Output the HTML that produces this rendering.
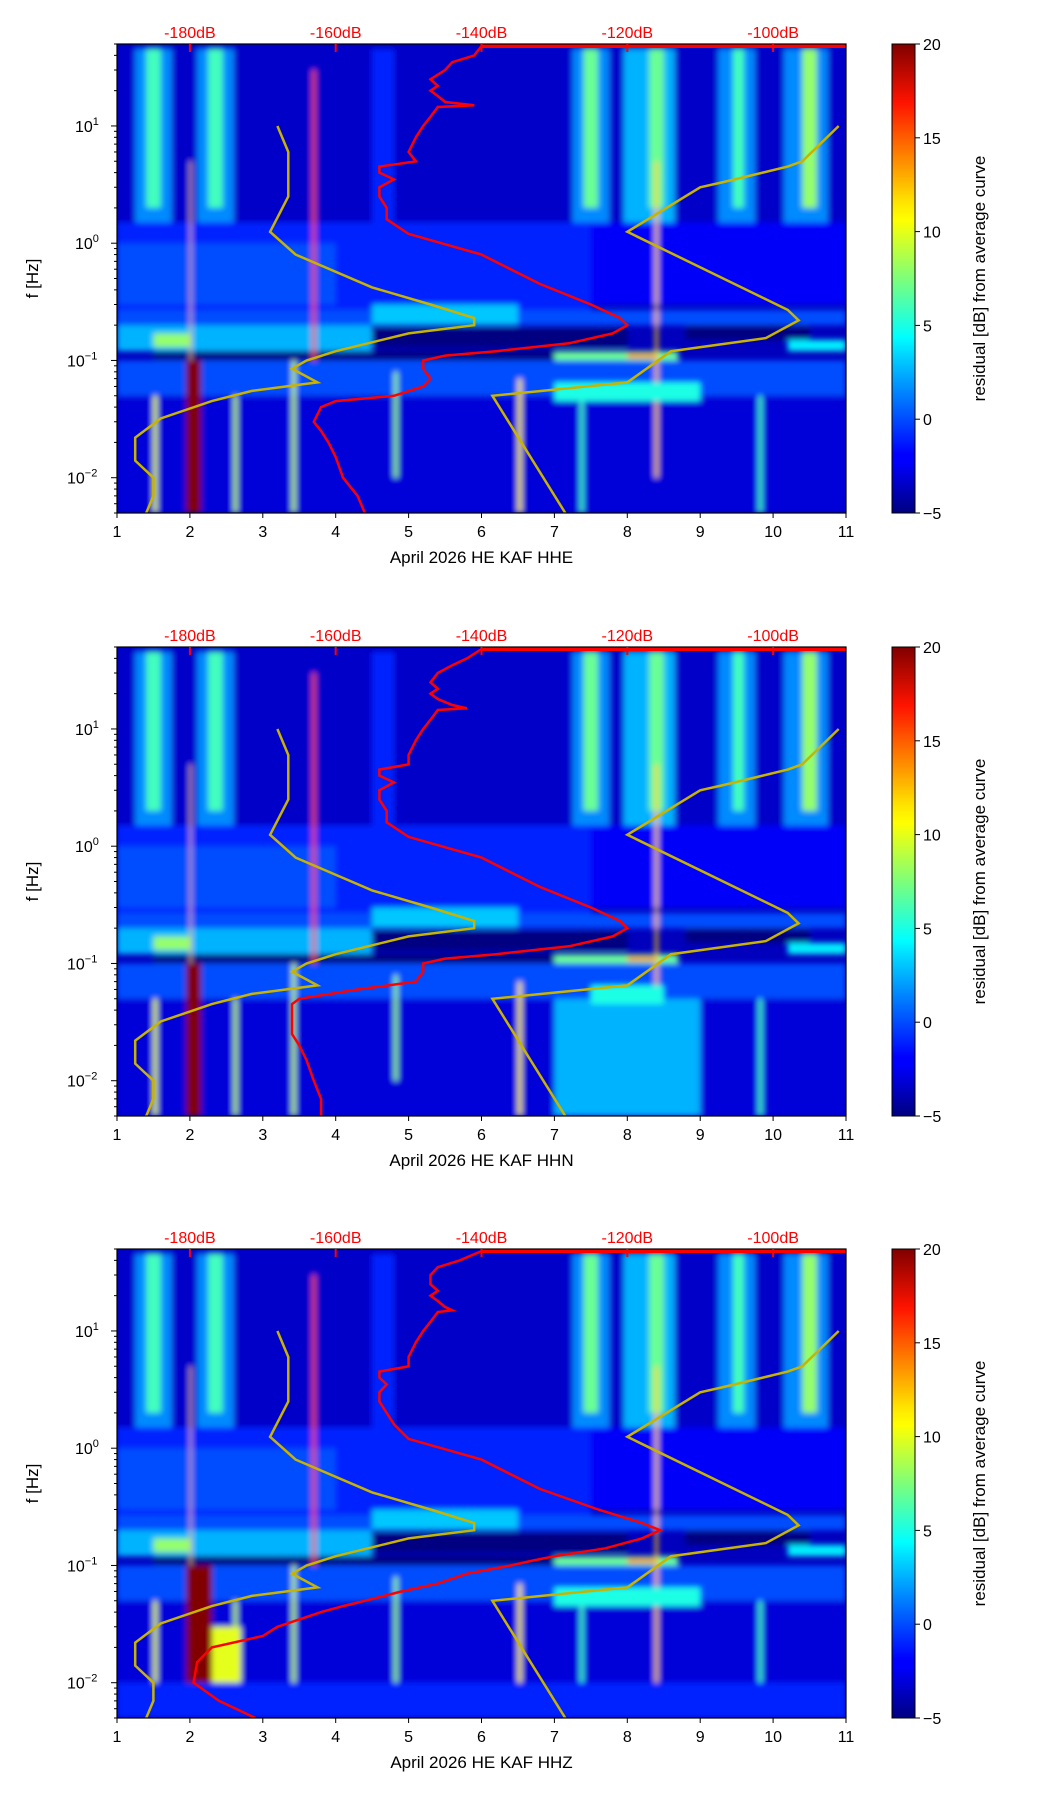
<!DOCTYPE html>
<html><head><meta charset="utf-8">
<style>
html,body{margin:0;padding:0;background:#fff;}
svg text{font-family:"Liberation Sans","DejaVu Sans",sans-serif;}
</style></head>
<body>
<svg id="fig" width="1052" height="1806" viewBox="0 0 1052 1806" xmlns="http://www.w3.org/2000/svg">
<defs>
<linearGradient id="jetgrad" x1="0" y1="1" x2="0" y2="0">
<stop offset="0" stop-color="#000080"/><stop offset="0.11" stop-color="#0000ff"/>
<stop offset="0.125" stop-color="#0000ff"/><stop offset="0.34" stop-color="#00d8ff"/>
<stop offset="0.375" stop-color="#00ffff"/><stop offset="0.5" stop-color="#7dff7a"/>
<stop offset="0.625" stop-color="#ffff00"/><stop offset="0.66" stop-color="#ffe600"/>
<stop offset="0.875" stop-color="#ff1300"/><stop offset="1" stop-color="#800000"/>
</linearGradient>
<filter id="blur" x="-5%" y="-5%" width="110%" height="110%"><feGaussianBlur stdDeviation="3"/></filter>
</defs>
</svg>
<script>
// ---- data ----
const panelNames = ["HHE","HHN","HHZ"];
const topTickDb = [-180,-160,-140,-120,-100];
const xTicks = [1,2,3,4,5,6,7,8,9,10,11];
const yDecades = [-2,-1,0,1];
const cbTicks = [-5,0,5,10,15,20];
// yellow reference curves (day index, Hz)
const lowModelDay = [3.2,3.35,3.35,3.1,3.45,4.5,5.3,5.9,5.9,5.0,4.0,3.6,3.4,3.75,2.85,2.3,1.6,1.25,1.25,1.5,1.5,1.4];
const lowModelF   = [10,6,2.5,1.25,0.8,0.42,0.3,0.23,0.2,0.17,0.12,0.1,0.085,0.065,0.055,0.045,0.032,0.022,0.014,0.01,0.007,0.005];
const highModelDay = [10.9,10.4,10.2,9.3,9.0,8.0,10.2,10.35,9.9,8.6,8.0,6.15,7.15];
const highModelF   = [10,5,4.5,3.3,3.0,1.25,0.27,0.22,0.155,0.12,0.065,0.05,0.005];
// red median PSD curves (Hz, dB)
const redF = [[48,48,40,35,30,25,22,20,18,16,15,14.5,12,10,8,6,5,4.5,4,3.5,3,2.5,2,1.6,1.2,0.8,0.45,0.3,0.23,0.2,0.17,0.14,0.12,0.11,0.1,0.085,0.07,0.06,0.05,0.045,0.04,0.03,0.025,0.02,0.015,0.01,0.007,0.005],
 [48,48,40,35,30,25,22,20,18,16,15,14.5,12,10,8,6,5,4.5,4,3.5,3,2.5,2,1.6,1.2,0.8,0.45,0.3,0.23,0.2,0.17,0.14,0.12,0.11,0.1,0.085,0.07,0.06,0.05,0.045,0.04,0.03,0.025,0.02,0.015,0.01,0.007,0.005],
 [48,48,40,35,30,25,22,20,18,16,15,14.5,12,10,8,6,5,4.5,4,3.5,3,2.5,2,1.6,1.2,0.8,0.45,0.3,0.23,0.2,0.17,0.14,0.12,0.11,0.1,0.085,0.07,0.06,0.05,0.045,0.04,0.03,0.025,0.02,0.015,0.01,0.007,0.005]];
const redDb = [[-90,-140,-141,-144,-145,-147,-146,-147,-146,-145,-141,-146,-147,-148,-149,-150,-149,-154,-154,-152,-154,-154,-153,-153,-150,-140,-132,-125,-121,-120,-122,-128,-138,-145,-148,-148,-147,-148,-152,-160,-162,-163,-162,-161,-160,-159,-157,-156],
 [-90,-140,-142,-144,-146,-147,-146,-147,-146,-144,-142,-146,-147,-148,-149,-150,-150,-154,-154,-152,-154,-154,-153,-153,-150,-140,-132,-125,-121,-120,-122,-128,-138,-145,-148,-148,-149,-157,-165,-166,-166,-166,-166,-165,-164,-163,-162,-162],
 [-90,-140,-143,-146,-147,-147,-146,-147,-146,-145,-144,-146,-147,-148,-149,-150,-150,-154,-154,-153,-154,-154,-153,-152,-150,-140,-132,-124,-118,-115.5,-118,-123,-130,-133,-136,-142,-146,-151,-156,-159,-162,-168,-170,-177,-179,-179.5,-176,-171]];
// spectrogram residual patches: [day0, day1, fLow, fHigh, residual dB]
const patchesCommon = [
 [1,11,1.5,50,-3.2],[1,7.5,0.25,1.5,-1],[7.5,11,0.3,1.5,-2],[1,4,0.3,1,0],
 [1.25,1.75,1.5,45,1.5],[2.1,2.6,1.5,45,1.5],[4.5,4.8,1.5,45,-1],[7.25,7.75,1.5,45,1.5],[7.95,8.65,1.5,45,2.5],[9.25,9.75,1.5,45,1.5],[10.15,10.75,1.5,45,1.5],
 [1.4,1.6,2,45,6],[2.25,2.45,2,45,6],[7.4,7.6,2,45,7],[8.3,8.5,2,45,7],[9.45,9.6,2,45,6],[10.4,10.6,2,45,8],
 [1,11,0.2,0.27,0],[4.5,6.5,0.2,0.3,3],[1,4.5,0.12,0.2,2.5],[1.5,2.0,0.13,0.17,8],
 [4.5,8,0.13,0.19,-5],[8.8,10.5,0.15,0.2,-5],[1.5,7,0.1,0.12,-5],
 [1,11,0.05,0.1,0],[7,8.7,0.1,0.12,7],[8.0,8.4,0.105,0.115,14],[10.2,11,0.12,0.15,4],
 [1,11,0.005,0.05,-2.8],
 [1.95,2.15,0.005,0.1,20],[3.68,3.72,0.1,30,15],[8.38,8.42,0.01,5,12],[2.0,2.02,0.1,5,12],
 [1.5,1.55,0.005,0.05,10],[2.6,2.65,0.005,0.05,9],[3.4,3.45,0.005,0.1,9],[4.8,4.85,0.01,0.08,8],[6.5,6.55,0.005,0.07,11],[7.35,7.4,0.005,0.05,6],[9.8,9.85,0.005,0.05,6]
];
const patchesExtra = [
 [[7,9,0.045,0.065,5]],
 [[7,9,0.005,0.05,2.5],[7.5,8.5,0.045,0.065,5]],
 [[7,9,0.045,0.065,5],[2.0,2.3,0.005,0.1,20],[2.3,2.7,0.005,0.03,10],[1,11,0.005,0.01,-1]]
];

// ---- layout ----
const NS="http://www.w3.org/2000/svg";
const svg=document.getElementById('fig');
const L=117, W=729, H=469, TOPS=[44,647,1249];
const FMAX=Math.log10(50), FMIN=Math.log10(0.005);
function xs(d){return L+(d-1)/10*W;}
function ys(T,f){return T+(FMAX-Math.log10(f))/(FMAX-FMIN)*H;}
function dbToDay(db){return 2+(db+180)/10;}
function jet(v){let t=Math.max(0,Math.min(1,(v+5)/25));
 const c=x=>Math.round(255*Math.max(0,Math.min(1,x)));
 return `rgb(${c(1.5-Math.abs(4*t-3))},${c(1.5-Math.abs(4*t-2))},${c(1.5-Math.abs(4*t-1))})`;}
function el(tag,attrs,parent){const e=document.createElementNS(NS,tag);for(const k in attrs)e.setAttribute(k,attrs[k]);(parent||svg).appendChild(e);return e;}
function txt(s,attrs,parent){const e=el('text',attrs,parent);e.textContent=s;return e;}

panelNames.forEach((name,p)=>{
 const T=TOPS[p];
 const g=el('g',{});
 
 
 const clip=el('clipPath',{id:'clip'+p},g);
 el('rect',{x:L,y:T,width:W,height:H},clip);
 const hm=el('g',{'clip-path':`url(#clip${p})`},g);
 
 
 el('rect',{x:L,y:T,width:W,height:H,fill:jet(-3.5)},hm);
 const bl=el('g',{filter:'url(#blur)'},hm);
 patchesCommon.concat(patchesExtra[p]).forEach(q=>{
  const r=el('rect',{x:xs(q[0]),y:ys(T,q[3]),width:xs(q[1])-xs(q[0]),height:ys(T,q[2])-ys(T,q[3]),fill:jet(q[4])},bl);
  
  
 });
 [[lowModelDay,lowModelF,'low-noise-model'],[highModelDay,highModelF,'high-noise-model']].forEach(m=>{
  const pts=m[0].map((d,i)=>xs(d).toFixed(1)+','+ys(T,m[1][i]).toFixed(1)).join(' ');
  const pl=el('polyline',{points:pts,fill:'none',stroke:'#c8b400',"stroke-width":2.5},hm);
  
  
 });
 const rp=redF[p].map((f,i)=>xs(dbToDay(redDb[p][i])).toFixed(1)+','+ys(T,f).toFixed(1)).join(' ');
 const rl=el('polyline',{points:rp,fill:'none',stroke:'#ff0000',"stroke-width":2.5},hm);
 
 
 el('line',{x1:xs(dbToDay(-140)),x2:L+W,y1:T+2,y2:T+2,stroke:'#ff0000','stroke-width':4},hm);
 el('rect',{x:L,y:T,width:W,height:H,fill:'none',stroke:'#000','stroke-width':1.2},g);
 xTicks.forEach(d=>{
  el('line',{x1:xs(d),x2:xs(d),y1:T+H,y2:T+H+5,stroke:'#000'},g);
  const t=txt(String(d),{x:xs(d),y:T+H+24,'font-size':16,'text-anchor':'middle'},g);
  
  
 });
 const xl=txt('April 2026 HE KAF  '+name,{x:L+W/2,y:T+H+50,'font-size':17,'text-anchor':'middle'},g);
 
 
 topTickDb.forEach(db=>{
  const x=xs(dbToDay(db));
  el('line',{x1:x,x2:x,y1:T,y2:T+8,stroke:'#ff0000','stroke-width':2},g);
  const t=txt(db+'dB',{x:x,y:T-6,'font-size':16,'text-anchor':'middle',fill:'#ff0000'},g);
  
  
 });
 for(let e=-3;e<=1;e++){for(let m=1;m<=9;m++){const f=m*Math.pow(10,e);if(f<0.005||f>50)continue;
  const y=ys(T,f);el('line',{x1:L-(m===1?6:3),x2:L,y1:y,y2:y,stroke:'#000'},g);}}
 yDecades.forEach(e=>{
  const y=ys(T,Math.pow(10,e));
  const t=txt('10',{x:L-(e<0?50:42),y:y+6,'font-size':16},g);
  const s=el('tspan',{dy:-7,'font-size':11},t);s.textContent=e<0?'\u2212'+(-e):String(e);
  
  
 });
 const yl=txt('f [Hz]',{x:0,y:0,'font-size':17,'text-anchor':'middle',transform:`translate(38,${T+H/2}) rotate(-90)`},g);
 
 
 const cb=el('rect',{x:892,y:T,width:23,height:H,fill:'url(#jetgrad)',stroke:'#000','stroke-width':1},g);
 
 
 cbTicks.forEach(v=>{
  const y=T+H-(v+5)/25*H;
  el('line',{x1:915,x2:920,y1:y,y2:y,stroke:'#000'},g);
  const t=txt(v<0?'\u2212'+(-v):String(v),{x:923,y:y+6,'font-size':16},g);
  
  
 });
 const cl=txt('residual [dB] from average curve',{x:0,y:0,'font-size':17,'text-anchor':'middle',transform:`translate(985,${T+H/2}) rotate(-90)`},g);
 
 
});
</script>
</body></html>
